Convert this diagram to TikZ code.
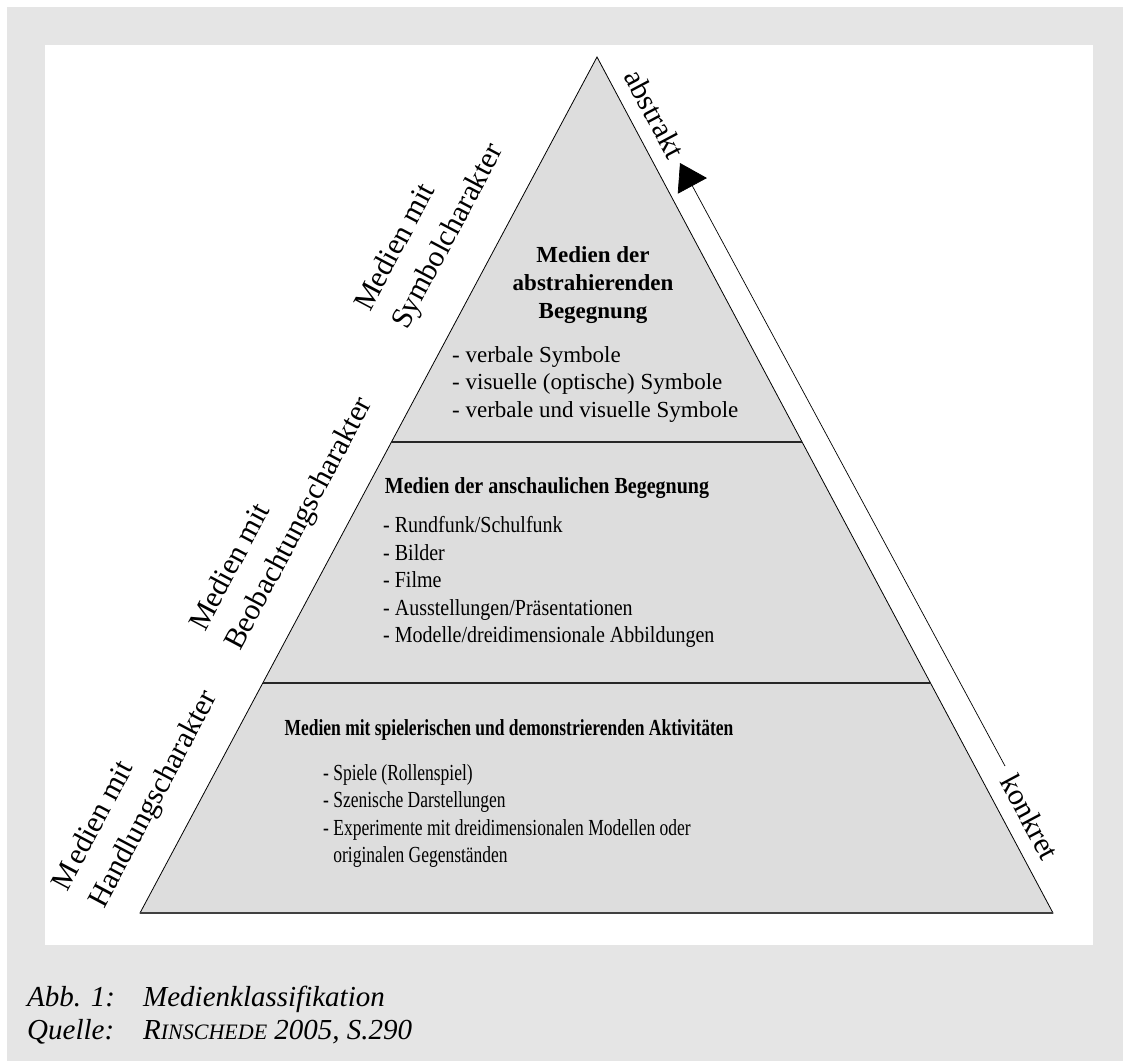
\documentclass[tikz,border=0pt]{standalone}
\usepackage{fontspec}
\setmainfont{Liberation Serif}
\newfontfamily\midfont[FakeStretch=0.87]{Liberation Serif}
\newfontfamily\lowfont[FakeStretch=0.76]{Liberation Serif}
\usetikzlibrary{calc,arrows.meta}
\definecolor{pagegray}{HTML}{E5E5E5}
\definecolor{pyrfill}{HTML}{DDDDDD}

\begin{document}
\begin{tikzpicture}[x=1pt,y=-1pt,
  sidelabel/.style={rotate=62,anchor=base west,inner sep=0pt,font=\fontsize{30}{36}\selectfont},
  edgelabel/.style={rotate=-62,inner sep=0pt,font=\fontsize{30}{36}\selectfont},
  heading/.style={inner sep=0pt,align=center,font=\fontsize{23}{28}\selectfont\bfseries},
  itemlist/.style={inner sep=0pt,anchor=west,align=left},
  divider/.style={line width=1.1pt,black!85},
  caption/.style={inner sep=0pt,anchor=base west,font=\fontsize{29}{34}\selectfont\itshape}]
  \useasboundingbox (0,0) rectangle (1123,1061);
  \fill[pagegray] (7,7) rectangle (1123,1061);
  \fill[white] (45,45) rectangle (1093,945);

  \path (597,57) coordinate (apex)
        (140,913) coordinate (baseleft)
        (1053,913) coordinate (baseright);

  % pyramid
  \draw [fill=pyrfill, line width=0.8pt] (apex) -- (baseleft) -- (baseright) -- cycle;
  \draw [line width=1.6pt, black!75] (baseleft) -- (baseright);
  \draw [divider] ($(apex)!0.4498!(baseleft)$) -- ($(apex)!0.4498!(baseright)$);
  \draw [divider] ($(apex)!0.7313!(baseleft)$) -- ($(apex)!0.7313!(baseright)$);

  % top level
  \node [heading] (topHead) at (593,285) {Medien der\\abstrahierenden\\Begegnung};
  \node [itemlist, font=\fontsize{23}{27.5}\selectfont] (topItems) at (452,384)
        {- verbale Symbole\\- visuelle (optische) Symbole\\- verbale und visuelle Symbole};

  % middle level
  \node [heading, anchor=base, font=\fontsize{23}{28}\selectfont\midfont\bfseries] (midHead) at (547,493)
        {Medien der anschaulichen Begegnung};
  \node [itemlist, font=\fontsize{23}{27.5}\selectfont\midfont] (midItems) at (383,582)
        {- Rundfunk/Schulfunk\\- Bilder\\- Filme\\- Ausstellungen/Pr\"asentationen\\- Modelle/dreidimensionale Abbildungen};

  % bottom level
  \node [heading, anchor=base, font=\fontsize{23}{28}\selectfont\lowfont\bfseries] (lowHead) at (509,735)
        {Medien mit spielerischen und demonstrierenden Aktivit\"aten};
  \node [itemlist, font=\fontsize{23}{27.4}\selectfont\lowfont] (lowItems) at (323,816)
        {- Spiele (Rollenspiel)\\- Szenische Darstellungen\\- Experimente mit dreidimensionalen Modellen oder\\\hphantom{- }originalen Gegenst\"anden};

  % labels on the left
  \node [sidelabel] (symbolA) at (370,313) {Medien mit};
  \node [sidelabel] (symbolB) at (407,331) {Symbolcharakter};
  \node [sidelabel] (beobA) at (205,633) {Medien mit};
  \node [sidelabel] (beobB) at (240,652) {Beobachtungscharakter};
  \node [sidelabel] (handA) at (67,893) {M\kern3pt edien mit};
  \node [sidelabel] (handB) at (104,910) {Handlungscharakter};

  % scale on the right
  \node [edgelabel] (abstrakt) at (655,114) {abstrakt};
  \node [edgelabel] (konkret) at (1030,817) {konkret};
  \path (1005,766) coordinate (arrowfoot) (680,163) coordinate (arrowtip);
  \draw [line width=0.7pt, -{Triangle[length=26pt,width=33pt]}] (arrowfoot) -- (arrowtip);

  % caption
  \node [caption] (abbLabel) at (27,1006) {Abb. 1:};
  \node [caption] (abbText) at (143,1006) {Medienklassifikation};
  \node [caption] (srcLabel) at (27,1039) {Quelle:};
  \node [caption] (srcText) at (143,1039) {R{\fontsize{22}{34}\selectfont INSCHEDE} 2005, S.290};
\end{tikzpicture}
\end{document}
